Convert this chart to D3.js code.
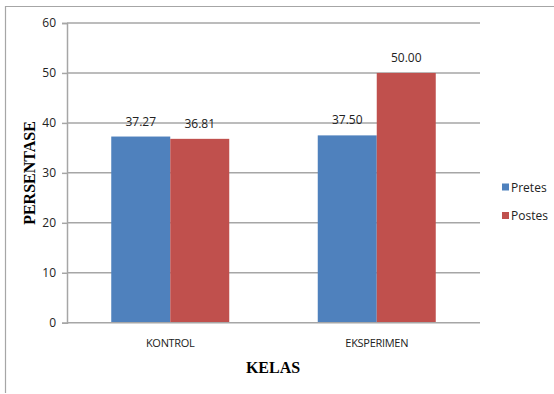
<!DOCTYPE html>
<html>
<head>
<meta charset="utf-8">
<script src="https://cdn.jsdelivr.net/npm/d3@7/dist/d3.min.js"></script>
<style>
  html, body { margin: 0; padding: 0; background: #fff; }
  svg { display: block; }
  .tick text { font-family: "Open Sans", "Liberation Sans", sans-serif; }
</style>
</head>
<body>
<svg id="chart" width="554" height="394"></svg>
<script>
// Data
const categories = ["KONTROL", "EKSPERIMEN"];
const seriesNames = ["Pretes", "Postes"];
const pretes = [37.27, 37.50];
const postes = [36.81, 50.00];
const yTicks = [0, 10, 20, 30, 40, 50, 60];
const colors = ["#4f81bd", "#c0504d"];

const values = [pretes, postes];

const svg = d3.select("#chart");
const W = 554, H = 394;

// outer frame (left and top edges visible)
svg.append("line").attr("x1", 5.5).attr("x2", 5.5).attr("y1", 6).attr("y2", 393)
  .attr("stroke", "#a6a6a6").attr("stroke-width", 1.2);
svg.append("line").attr("x1", 5).attr("x2", W).attr("y1", 6.5).attr("y2", 6.5)
  .attr("stroke", "#a6a6a6").attr("stroke-width", 1.2);

const plot = { left: 67, right: 480, top: 23, bottom: 322.7 };

const y = d3.scaleLinear().domain([0, 60]).range([plot.bottom, plot.top]);
const x0 = d3.scaleBand().domain(categories).range([plot.left, plot.right]).paddingInner(0).paddingOuter(0);
const groupW = 118;
const x1 = d3.scaleBand().domain(seriesNames).range([0, groupW]).padding(0);

// gridlines
svg.append("g").selectAll("line").data(yTicks.filter(d => d > 0)).join("line")
  .attr("x1", plot.left).attr("x2", plot.right)
  .attr("y1", d => y(d)).attr("y2", d => y(d))
  .attr("stroke", "#a6a6a6").attr("stroke-width", 1.5);

// y axis
const yAxis = svg.append("g").attr("transform", `translate(${plot.left},0)`)
  .call(d3.axisLeft(y).tickValues(yTicks).tickSize(5).tickPadding(6));
yAxis.select(".domain").attr("stroke", "#a6a6a6").attr("stroke-width", 1.5);
yAxis.selectAll(".tick line").attr("stroke", "#a6a6a6").attr("stroke-width", 1.5);
yAxis.selectAll(".tick text").attr("font-size", 12).attr("fill", "#222");

// bars
const groups = svg.append("g").selectAll("g").data(categories).join("g")
  .attr("transform", c => `translate(${x0(c) + x0.bandwidth() / 2 - groupW / 2},0)`);

groups.each(function(c, ci) {
  const g = d3.select(this);
  seriesNames.forEach((s, si) => {
    const v = values[si][ci];
    g.append("rect")
      .attr("x", x1(s)).attr("width", x1.bandwidth())
      .attr("y", y(v)).attr("height", y(0) - y(v))
      .attr("fill", colors[si]);
    g.append("text")
      .attr("x", x1(s) + x1.bandwidth() / 2)
      .attr("y", y(v) - 11)
      .attr("text-anchor", "middle")
      .attr("font-family", "'Open Sans', 'Liberation Sans', sans-serif")
      .attr("font-size", 12).attr("fill", "#222")
      .text(v.toFixed(2));
  });
});

// x axis baseline
svg.append("line").attr("x1", plot.left).attr("x2", plot.right)
  .attr("y1", y(0)).attr("y2", y(0))
  .attr("stroke", "#a6a6a6").attr("stroke-width", 1.5);

// category labels
svg.append("g").selectAll("text").data(categories).join("text")
  .attr("x", c => x0(c) + x0.bandwidth() / 2)
  .attr("y", 347)
  .attr("text-anchor", "middle")
  .attr("font-family", "'Open Sans', 'Liberation Sans', sans-serif")
  .attr("font-size", 11).attr("fill", "#222")
  .attr("letter-spacing", -0.3)
  .text(c => c);

// axis titles
svg.append("text")
  .attr("transform", `translate(35,173) rotate(-90)`)
  .attr("text-anchor", "middle")
  .attr("font-family", "'Liberation Serif', 'Times New Roman', serif")
  .attr("font-weight", "bold").attr("font-size", 16).attr("fill", "#000")
  .text("PERSENTASE");

svg.append("text")
  .attr("x", 273).attr("y", 373)
  .attr("text-anchor", "middle")
  .attr("font-family", "'Liberation Serif', 'Times New Roman', serif")
  .attr("font-weight", "bold").attr("font-size", 16).attr("fill", "#000")
  .text("KELAS");

// legend
const legend = svg.append("g").selectAll("g").data(seriesNames).join("g")
  .attr("transform", (d, i) => `translate(502,${187 + i * 28.5})`);
legend.append("rect").attr("x", 0).attr("y", -3.5).attr("width", 7).attr("height", 7)
  .attr("fill", (d, i) => colors[i]);
legend.append("text").attr("x", 9).attr("y", 4.5)
  .attr("font-family", "'Open Sans', 'Liberation Sans', sans-serif")
  .attr("font-size", 12).attr("fill", "#222")
  .text(d => d);
</script>
</body>
</html>
